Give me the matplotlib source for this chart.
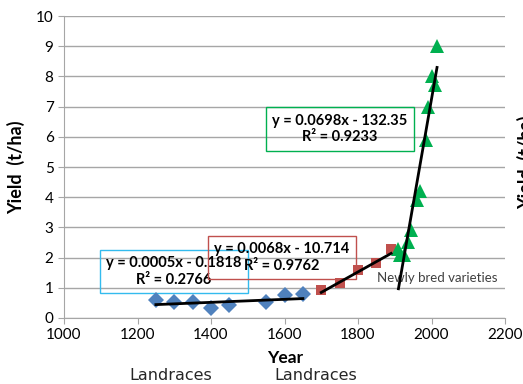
import numpy as np
import matplotlib
matplotlib.use("Agg")
import matplotlib.pyplot as plt

plt.rcParams["font.family"] = ["Lato", "DejaVu Sans"]

# landraces (early)
land_x = [1250, 1300, 1350, 1400, 1450, 1550, 1600, 1650]
land_y = [0.58, 0.53, 0.52, 0.33, 0.44, 0.53, 0.75, 0.78]
# landraces (later)
late_x = [1700, 1750, 1800, 1850, 1890]
late_y = [0.94, 1.16, 1.58, 1.82, 2.28]
# newly bred varieties
new_x = [1910, 1915, 1925, 1935, 1945, 1960, 1970, 1985, 1990, 2000, 2010, 2015]
new_y = [2.3, 2.1, 2.1, 2.5, 2.9, 3.9, 4.2, 5.9, 7.0, 8.0, 7.7, 9.0]

# trend line coefficients (slope, intercept) as printed on the chart
fits = [(0.0005, -0.1818, 0.2766), (0.0068, -10.714, 0.9762), (0.0698, -132.35, 0.9233)]

fig = plt.figure(figsize=(5.23, 3.84), dpi=100)
ax = fig.add_axes([0.1224, 0.1719, 0.8432, 0.7864])

ax.set_xlim(1000, 2200)
ax.set_ylim(0, 10)
ax.set_xticks(range(1000, 2201, 200))
ax.set_yticks(range(0, 11))
ax.grid(axis="y", color="#a6a6a6", lw=1)
ax.set_axisbelow(True)
for s in ("top", "right"):
    ax.spines[s].set_visible(False)
for s in ("left", "bottom"):
    ax.spines[s].set_color("#a6a6a6")
ax.tick_params(axis="both", colors="#a6a6a6", labelcolor="black",
               labelsize=11, length=4)

ax.plot(land_x, land_y, "D", color="#4f81bd", ms=8, mew=0, zorder=3)
ax.plot(late_x, late_y, "s", color="#c0504d", ms=7, mew=0, zorder=3)
ax.plot(new_x, new_y, "^", color="#00b050", ms=10, mew=0, zorder=3)

for xs, (m, b, _) in zip((land_x, late_x, new_x), fits):
    xx = np.array([min(xs), max(xs)], dtype=float)
    ax.plot(xx, m * xx + b, color="black", lw=2, zorder=4)

labels = [
    ("y = 0.0005x - 0.1818\nR² = 0.2766", 1299, 1.54, "#33bbee"),
    ("y = 0.0068x - 10.714\nR² = 0.9762", 1593, 2.0, "#c0504d"),
    ("y = 0.0698x - 132.35\nR² = 0.9233", 1751, 6.26, "#00b050"),
]
for txt, x, y, ec in labels:
    ax.text(x, y, txt, ha="center", va="center", fontsize=10.5,
            fontweight="bold", linespacing=1.2, zorder=2,
            bbox=dict(boxstyle="square,pad=0.45", fc="none", ec=ec, lw=1))

ax.text(1852, 1.33, "Newly bred varieties", fontsize=9.5, color="#404040",
        va="center", ha="left", zorder=2)

ax.set_ylabel("Yield  (t/ha)", fontsize=13, fontweight="bold", labelpad=8)
fig.text(285 / 523, 1 - 358 / 384, "Year", fontsize=12.5, fontweight="bold",
         ha="center", va="center")
for xp in (171, 316):
    fig.text(xp / 523, 1 - 376 / 384, "Landraces", family="DejaVu Sans",
             fontsize=11.5, color="#262626", ha="center", va="center")
fig.text(517 / 523, 1 - 162 / 384, "Yield  (t/ha)", fontsize=13,
         fontweight="bold", rotation=90, ha="left", va="center")

fig.savefig("out.png", dpi=100)
